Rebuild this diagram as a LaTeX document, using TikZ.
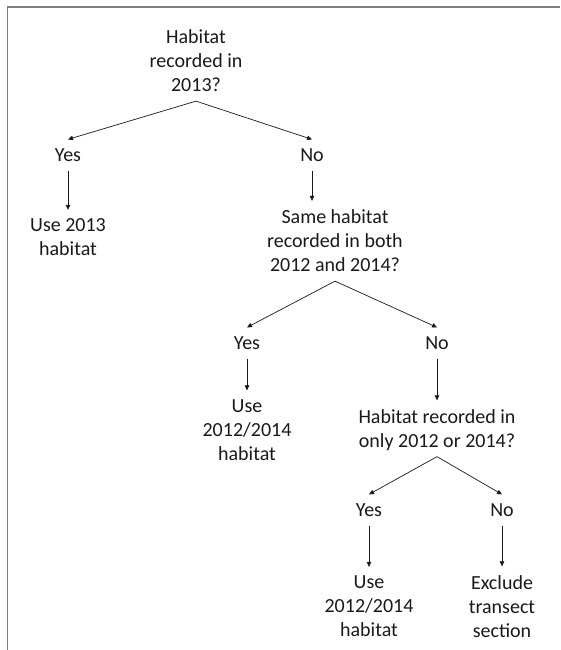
\documentclass[tikz,border=0pt]{standalone}
\usepackage{fontspec}
\setmainfont{Carlito}
\usetikzlibrary{arrows.meta}

\begin{document}
\begin{tikzpicture}[x=1pt,y=-1pt,
	txt/.style={align=center,inner xsep=0pt,inner ysep=9pt,text depth=0pt,
		font=\fontsize{20}{24}\selectfont,text=black!90},
	arr/.style={-{Triangle[length=5pt,width=4.5pt]},draw=black!90,line width=0.7pt}]
	\useasboundingbox (0,0) rectangle (560,650);
	\draw [black!50,line width=1.5pt] (7.5,650) -- (7.5,7) -- (560,7);

	\node[txt] (q1) at (196,61) {Habitat\\recorded in\\2013?};
	\node[txt] (y1) at (68,155) {Yes};
	\node[txt] (n1) at (312,155) {No};
	\node[txt] (r1) at (68,237.5) {Use 2013\\habitat};

	\node[txt] (q2) at (335,241) {Same habitat\\recorded in both\\2012 and 2014?};
	\node[txt] (y2) at (247,343) {Yes};
	\node[txt] (n2) at (437,343) {No};
	\node[txt] (r2) at (247,430) {Use\\2012/2014\\habitat};

	\node[txt] (q3) at (437,428.5) {Habitat recorded in\\only 2012 or 2014?};
	\node[txt] (y3) at (369,510) {Yes};
	\node[txt] (n3) at (502,510) {No};
	\node[txt] (r3) at (369,606.5) {Use\\2012/2014\\habitat};
	\node[txt] (r4) at (502,606.5) {Exclude\\transect\\section};

	\draw [arr] (q1.south) -- (y1.north);
	\draw [arr] (q1.south) -- (n1.north);
	\draw [arr] (y1.south) -- (r1.north);
	\draw [arr] (n1.south) -- (n1.south |- q2.north);

	\draw [arr] (q2.south) -- (y2.north);
	\draw [arr] (q2.south) -- (n2.north);
	\draw [arr] (y2.south) -- (r2.north);
	\draw [arr] (n2.south) -- (q3.north);

	\draw [arr] (q3.south) -- (y3.north);
	\draw [arr] (q3.south) -- (n3.north);
	\draw [arr] (y3.south) -- (r3.north);
	\draw [arr] (n3.south) -- (r4.north);
\end{tikzpicture}
\end{document}
